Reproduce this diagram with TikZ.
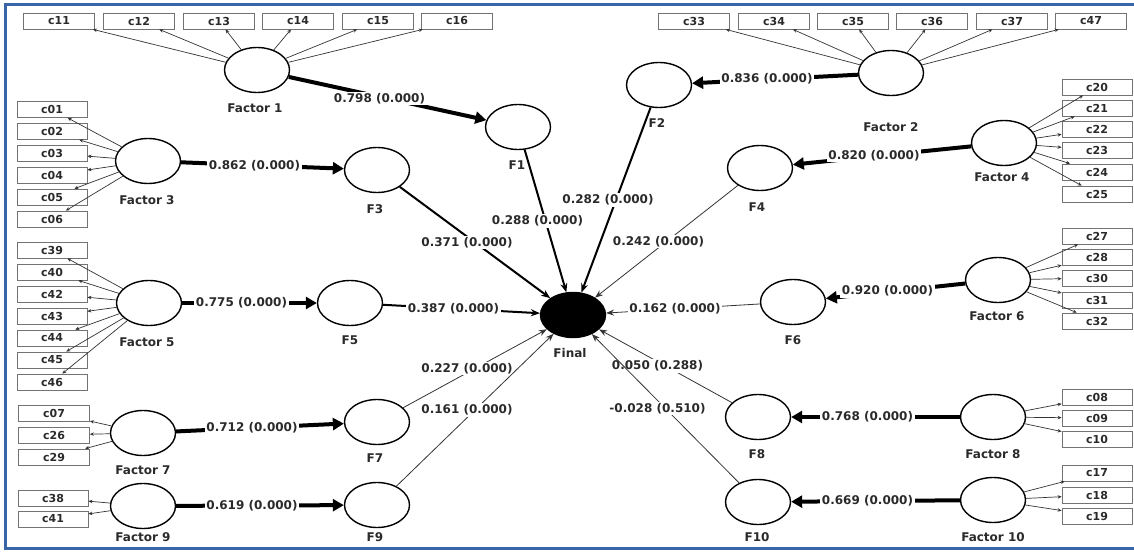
\documentclass[tikz,border=0pt]{standalone}
\usepackage{fontspec}
\setmainfont{DejaVu Sans}
\usetikzlibrary{shapes.geometric,arrows.meta}
\definecolor{txt}{HTML}{2A2A2A}
\definecolor{frameblue}{HTML}{3A64A8}
\newcommand\labf{\fontsize{12}{14}\selectfont\bfseries}
\newcommand\boxf{\fontsize{11}{13}\selectfont\bfseries}
\begin{document}
\begin{tikzpicture}[x=1pt,y=-1pt,
  lv/.style={ellipse, draw, line width=1.4pt, minimum width=65pt, minimum height=45pt, inner sep=0pt},
  fin/.style={lv, fill=black},
  ind/.style={draw=black!55, line width=0.8pt, minimum width=71pt, minimum height=16pt, inner sep=0pt, font=\boxf, text=txt},
  lab/.style={font=\labf, text=txt, inner sep=1pt},
  coef/.style={font=\labf, text=txt, fill=white, inner sep=1.5pt, xshift=-8pt},
  load/.style={draw=black!80, line width=0.7pt, -{Stealth[length=4pt,width=3.5pt]}},
  strong/.style={line width=4pt, -{Triangle[length=11pt,width=12pt]}},
  heavy/.style={line width=2pt, -{Stealth[length=9pt,width=7pt]}},
  light/.style={draw=black!80, line width=0.8pt, -{Stealth[length=8pt,width=6pt]}}
]
\useasboundingbox (0,0) rectangle (1134,556);
\draw[frameblue, line width=3pt] (1134,5) -- (5,5) -- (5,548) -- (1134,548);

% latent variables
\node[lv] (FA1) at (257,70) {};   \node[lab] (LFA1) at (255,108) {Factor 1};
\node[lv] (FA2) at (891,73) {};   \node[lab] (LFA2) at (891,127) {Factor 2};
\node[lv] (FA3) at (148,161) {};  \node[lab] (LFA3) at (147,200) {Factor 3};
\node[lv] (FA4) at (1004,143) {}; \node[lab] (LFA4) at (1002,177) {Factor 4};
\node[lv] (FA5) at (149,303) {};  \node[lab] (LFA5) at (147,342) {Factor 5};
\node[lv] (FA6) at (998,280) {};  \node[lab] (LFA6) at (997,316) {Factor 6};
\node[lv] (FA7) at (143,433) {};  \node[lab] (LFA7) at (143,470) {Factor 7};
\node[lv] (FA8) at (993,417) {};  \node[lab] (LFA8) at (993,454) {Factor 8};
\node[lv] (FA9) at (143,506) {};  \node[lab] (LFA9) at (143,537) {Factor 9};
\node[lv] (FA10) at (993,500) {}; \node[lab] (LFA10) at (993,537) {Factor 10};

\node[lv] (F1) at (518,127) {};  \node[lab] (LF1) at (517,165) {F1};
\node[lv] (F2) at (659,85) {};   \node[lab] (LF2) at (657,123) {F2};
\node[lv] (F3) at (377,170) {};  \node[lab] (LF3) at (375,209) {F3};
\node[lv] (F4) at (760,168) {};  \node[lab] (LF4) at (757,207) {F4};
\node[lv] (F5) at (350,303) {};  \node[lab] (LF5) at (350,340) {F5};
\node[lv] (F6) at (793,302) {};  \node[lab] (LF6) at (793,340) {F6};
\node[lv] (F7) at (377,422) {};  \node[lab] (LF7) at (375,458) {F7};
\node[lv] (F8) at (758,417) {};  \node[lab] (LF8) at (757,454) {F8};
\node[lv] (F9) at (377,505) {};  \node[lab] (LF9) at (375,537) {F9};
\node[lv] (F10) at (758,502) {}; \node[lab] (LF10) at (757,537) {F10};
\node[fin] (FIN) at (573,315) {}; \node[lab] (LFIN) at (570,353) {Final};

% indicators
\foreach \n/\x in {c11/59,c12/139,c13/219,c14/298,c15/378,c16/457}
  {\node[ind] (\n) at (\x,21) {\n};}
\foreach \n/\x in {c33/694,c34/774,c35/853,c36/932,c37/1012,c47/1091}
  {\node[ind] (\n) at (\x,21) {\n};}
\foreach \n/\y in {c01/109.5,c02/131.4,c03/153.3,c04/175.2,c05/197.1,c06/219}
  {\node[ind, minimum width=70pt] (\n) at (52,\y) {\n};}
\foreach \n/\y in {c39/250,c40/272,c42/294,c43/316,c44/338,c45/360,c46/382}
  {\node[ind, minimum width=70pt] (\n) at (52,\y) {\n};}
\foreach \n/\y in {c07/413,c26/435,c29/457}
  {\node[ind, minimum width=71pt] (\n) at (54,\y) {\n};}
\foreach \n/\y in {c38/498,c41/519}
  {\node[ind, minimum width=70pt] (\n) at (53,\y) {\n};}
\foreach \n/\y in {c20/87,c21/108,c22/129,c23/150,c24/172,c25/194}
  {\node[ind, minimum width=70pt] (\n) at (1097,\y) {\n};}
\foreach \n/\y in {c27/236,c28/257,c30/278,c31/300,c32/321}
  {\node[ind, minimum width=70pt] (\n) at (1097,\y) {\n};}
\foreach \n/\y in {c08/397,c09/418,c10/439}
  {\node[ind, minimum width=70pt] (\n) at (1097,\y) {\n};}
\foreach \n/\y in {c17/473,c18/495,c19/516}
  {\node[ind, minimum width=70pt] (\n) at (1097,\y) {\n};}

% loadings
\foreach \n in {c11,c12,c13,c14,c15,c16} {\draw[load] (FA1) -- (\n);}
\foreach \n in {c33,c34,c35,c36,c37,c47} {\draw[load] (FA2) -- (\n);}
\foreach \n in {c01,c02,c03,c04,c05,c06} {\draw[load] (FA3) -- (\n);}
\foreach \n in {c20,c21,c22,c23,c24,c25} {\draw[load] (FA4) -- (\n);}
\foreach \n in {c39,c40,c42,c43,c44,c45,c46} {\draw[load] (FA5) -- (\n);}
\foreach \n in {c27,c28,c30,c31,c32} {\draw[load] (FA6) -- (\n);}
\foreach \n in {c07,c26,c29} {\draw[load] (FA7) -- (\n);}
\foreach \n in {c08,c09,c10} {\draw[load] (FA8) -- (\n);}
\foreach \n in {c38,c41} {\draw[load] (FA9) -- (\n);}
\foreach \n in {c17,c18,c19} {\draw[load] (FA10) -- (\n);}

% factor -> F
\draw[strong] (FA1) -- node[coef] (k1) {0.798 (0.000)} (F1);
\draw[strong] (FA2) -- node[coef] (k2) {0.836 (0.000)} (F2);
\draw[strong] (FA3) -- node[coef] (k3) {0.862 (0.000)} (F3);
\draw[strong] (FA4) -- node[coef] (k4) {0.820 (0.000)} (F4);
\draw[strong] (FA5) -- node[coef] (k5) {0.775 (0.000)} (F5);
\draw[strong] (FA6) -- node[coef] (k6) {0.920 (0.000)} (F6);
\draw[strong] (FA7) -- node[coef] (k7) {0.712 (0.000)} (F7);
\draw[strong] (FA8) -- node[coef] (k8) {0.768 (0.000)} (F8);
\draw[strong] (FA9) -- node[coef] (k9) {0.619 (0.000)} (F9);
\draw[strong] (FA10) -- node[coef] (k10) {0.669 (0.000)} (F10);

% F -> Final
\draw[heavy] (F1) -- node[coef] (p1) {0.288 (0.000)} (FIN);
\draw[heavy] (F2) -- node[coef] (p2) {0.282 (0.000)} (FIN);
\draw[heavy] (F3) -- node[coef] (p3) {0.371 (0.000)} (FIN);
\draw[light] (F4) -- node[coef] (p4) {0.242 (0.000)} (FIN);
\draw[heavy] (F5) -- node[coef] (p5) {0.387 (0.000)} (FIN);
\draw[light] (F6) -- node[coef] (p6) {0.162 (0.000)} (FIN);
\draw[light] (F7) -- node[coef] (p7) {0.227 (0.000)} (FIN);
\draw[light] (F8) -- node[coef] (p8) {0.050 (0.288)} (FIN);
\draw[light] (F9) -- node[coef] (p9) {0.161 (0.000)} (FIN);
\draw[light] (F10) -- node[coef] (p10) {-0.028 (0.510)} (FIN);
\end{tikzpicture}
\end{document}
